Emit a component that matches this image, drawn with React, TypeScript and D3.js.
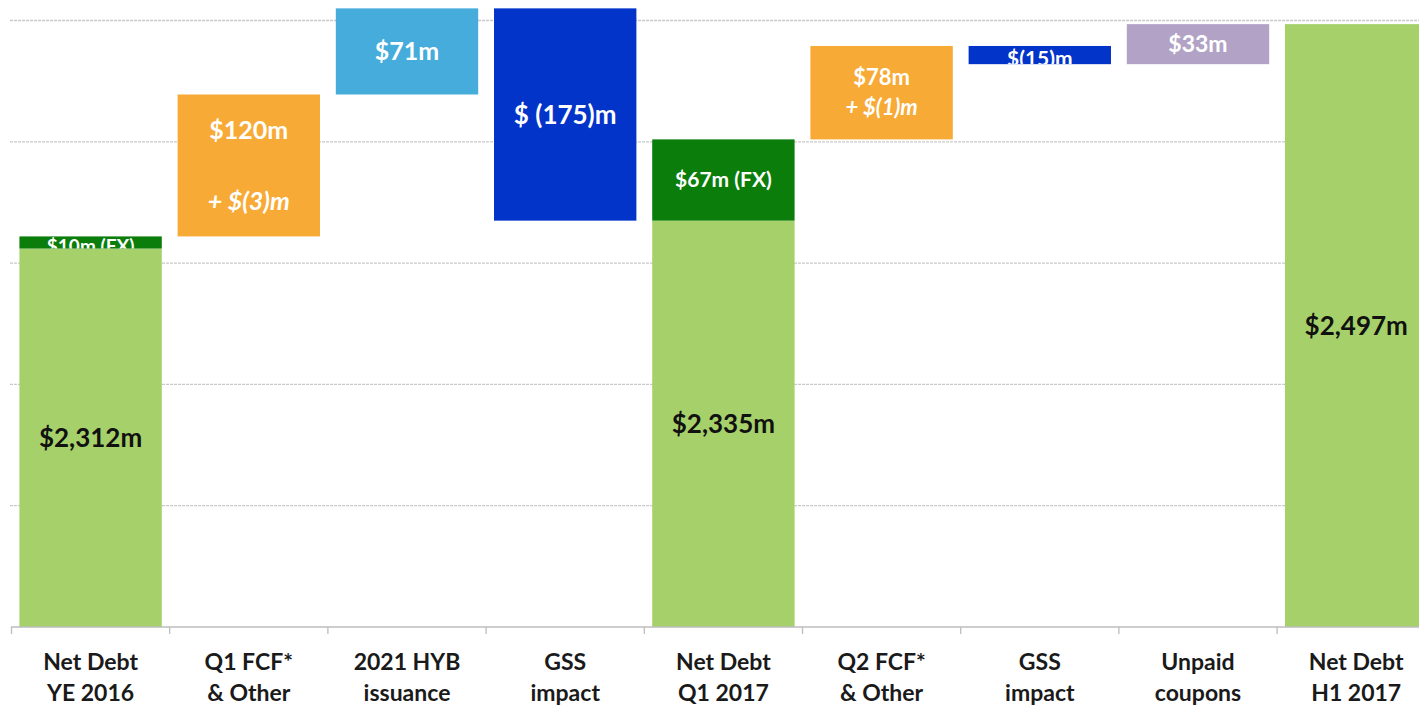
import React from 'react';
import * as d3 from 'd3';

// category labels (two lines each)
const labelTop = ['Net Debt', 'Q1 FCF*', '2021 HYB', 'GSS', 'Net Debt', 'Q2 FCF*', 'GSS', 'Unpaid', 'Net Debt'];
const labelBottom = ['YE 2016', '& Other', 'issuance', 'impact', 'Q1 2017', '& Other', 'impact', 'coupons', 'H1 2017'];
const kinds = ['total', 'fcf', 'hyb', 'gss', 'total', 'fcf', 'gss', 'coupons', 'total'];

// $m movements; on total columns this is the FX part stacked on top
const openingNetDebt = 2312;
const movements = [10, 117, 71, -175, 67, 77, -15, 33, 0];
const mainLabels = ['$2,312m', '$120m', '$71m', '$ (175)m', '$2,335m', '$78m', '$(15)m', '$33m', '$2,497m'];
const subLabels = ['$10m (FX)', '+ $(3)m', '', '', '$67m (FX)', '+ $(1)m', '', '', ''];
const gridTicks = [2000, 2100, 2200, 2300, 2400, 2500];

const colors: Record<string, string> = {
  total: '#a6d06a',
  fx: '#0a7d0a',
  fcf: '#f8aa36',
  hyb: '#45acdb',
  gss: '#0234c9',
  coupons: '#b2a3c6',
};

const W = 1419;
const H = 706;
const FONT = 'Lato, "Open Sans", sans-serif';

type Bar = { i: number; y0: number; y1: number; color: string; label: string; sub: string; dark: boolean; fx?: boolean };

const buildBars = (): Bar[] => {
  const bars: Bar[] = [];
  let running = openingNetDebt;
  kinds.forEach((k, i) => {
    if (k === 'total') {
      bars.push({ i, y0: 2000, y1: running, color: colors.total, label: mainLabels[i], sub: '', dark: true });
      if (movements[i] !== 0) {
        bars.push({ i, y0: running, y1: running + movements[i], color: colors.fx, label: subLabels[i], sub: '', dark: false, fx: true });
        running += movements[i];
      }
    } else {
      bars.push({ i, y0: running, y1: running + movements[i], color: colors[k], label: mainLabels[i], sub: subLabels[i], dark: false });
      running += movements[i];
    }
  });
  return bars;
};

export default function App() {
  const x = d3.scaleBand<number>()
    .domain(d3.range(kinds.length))
    .range([11.5, 11.5 + 158.2 * 9])
    .paddingInner(0.1)
    .paddingOuter(0.05);
  const y = d3.scaleLinear().domain([2000, 2500]).range([627, 20.5]);
  const bars = buildBars();
  const step = x.step();

  return (
    <svg width={W} height={H} style={{ position: 'absolute', left: 0, top: 0, background: '#fff' }}>
      <defs>
        {bars.map((b, k) => {
          const top = y(Math.max(b.y0, b.y1));
          const bot = y(Math.min(b.y0, b.y1));
          return (
            <clipPath id={`clip${k}`} key={k}>
              <rect x={x(b.i)} y={top} width={x.bandwidth()} height={bot - top} />
            </clipPath>
          );
        })}
      </defs>

      {/* gridlines */}
      {gridTicks.slice(1).map(t => (
        <line key={t} x1={10} x2={W} y1={y(t)} y2={y(t)} stroke="#c9c9c9" strokeWidth={1.3} strokeDasharray="3,1" />
      ))}

      {/* bars */}
      {bars.map((b, k) => {
        const top = y(Math.max(b.y0, b.y1));
        const bot = y(Math.min(b.y0, b.y1));
        const h = bot - top;
        const cx = (x(b.i) as number) + x.bandwidth() / 2;
        const cy = (top + bot) / 2;
        const small = h < 20;
        const gap = h > 120 ? h / 4 : 15;
        const size = b.dark ? 26
          : b.fx ? (small ? 19 : 21)
          : b.sub ? (h > 120 ? 25 : 22)
          : h > 150 ? 26 : h > 60 ? 25 : small ? 21 : 23;
        return (
          <g key={k}>
            <rect x={x(b.i)} y={top} width={x.bandwidth()} height={h} fill={b.color} />
            <g clipPath={`url(#clip${k})`} fontFamily={FONT} fontWeight="bold" textAnchor="middle" fill={b.dark ? '#111' : '#fff'}>
              <text x={cx} y={b.sub ? cy - gap : cy + (small ? 4 : 0)} dy="0.35em" fontSize={size}>{b.label}</text>
              {b.sub && (
                <text x={cx} y={cy + gap} dy="0.35em" fontSize={size} fontStyle="italic">{b.sub}</text>
              )}
            </g>
          </g>
        );
      })}

      {/* axis */}
      <line x1={11} x2={W} y1={y(2000)} y2={y(2000)} stroke="#bdbdbd" strokeWidth={1.3} />
      {d3.range(kinds.length).map(i => (
        <line key={i} x1={11.5 + i * step} x2={11.5 + i * step} y1={y(2000)} y2={y(2000) + 7} stroke="#bdbdbd" strokeWidth={1.3} />
      ))}
      {kinds.map((_, i) => {
        const cx = (x(i) as number) + x.bandwidth() / 2;
        return (
          <text key={i} x={cx} textAnchor="middle" fontFamily={FONT} fontWeight="bold" fontSize={23} fill="#1a1a1a">
            <tspan x={cx} y={670}>{labelTop[i]}</tspan>
            <tspan x={cx} y={701}>{labelBottom[i]}</tspan>
          </text>
        );
      })}
    </svg>
  );
}
